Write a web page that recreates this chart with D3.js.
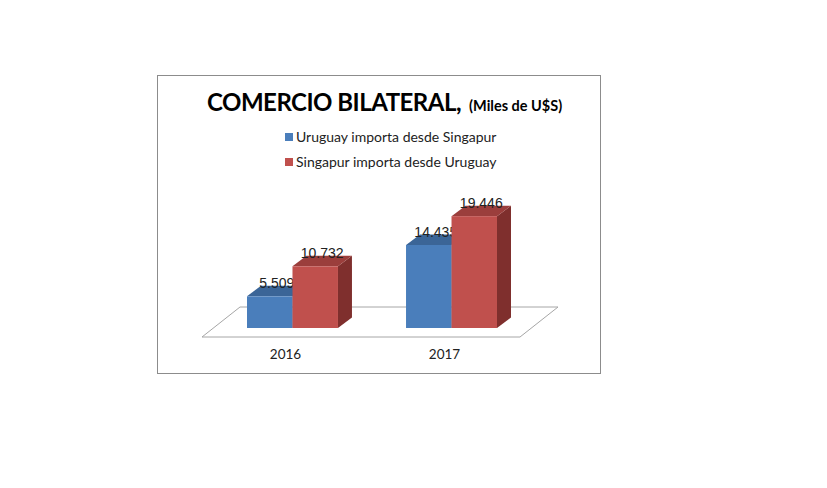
<!DOCTYPE html>
<html><head><meta charset="utf-8">
<script src="https://cdn.jsdelivr.net/npm/d3@7"></script>
<style>body{margin:0;background:#fff}</style>
</head><body>
<svg width="827" height="488"></svg>
<script>
var years = ['2016', '2017'];
var seriesNames = ['Uruguay importa desde Singapur', 'Singapur importa desde Uruguay'];
var uruguayImporta = [5509, 14435];
var singapurImporta = [10732, 19446];
var valueLabels = [['5.509', '14.435'], ['10.732', '19.446']];

var front = ['#4a7ebb', '#c0504d'];
var topC = ['#3b6597', '#9b3e3c'];
var sideC = ['#345a87', '#7f2f2d'];

var svg = d3.select('svg');
var font = 'Lato, "Open Sans", sans-serif';

// frame
svg.append('rect').attr('x', 157.5).attr('y', 75.5).attr('width', 443).attr('height', 298)
  .attr('fill', 'none').attr('stroke', '#8c8c8c');

var x0 = d3.scaleBand().domain(years).range([247, 497]).paddingInner(0.428);
var x1 = d3.scaleBand().domain([0, 1]).range([0, x0.bandwidth()]);
var y = d3.scaleLinear().domain([0, 20000]).range([328, 213]);
var dx = 14, dy = -10.5;

// floor
svg.append('path')
  .attr('d', 'M202,337 L520,337 L558,307 L240,307 Z')
  .attr('fill', '#fff').attr('stroke', '#a6a6a6');

var series = [uruguayImporta, singapurImporta];
series.forEach(function(vals, s){
  vals.forEach(function(v, i){
    var left = x0(years[i]) + x1(s), w = x1.bandwidth();
    var top = y(v), base = y(0);
    var g = svg.append('g');
    g.append('path').attr('fill', sideC[s])
      .attr('d', 'M' + (left + w) + ',' + base + ' L' + (left + w + dx) + ',' + (base + dy) +
        ' L' + (left + w + dx) + ',' + (top + dy) + ' L' + (left + w) + ',' + top + 'Z');
    g.append('path').attr('fill', topC[s])
      .attr('d', 'M' + left + ',' + top + ' L' + (left + dx) + ',' + (top + dy) +
        ' L' + (left + w + dx) + ',' + (top + dy) + ' L' + (left + w) + ',' + top + 'Z');
    g.append('rect').attr('x', left).attr('y', top).attr('width', w).attr('height', base - top)
      .attr('fill', front[s]);
    g.append('text').attr('x', left + w / 2 + dx / 2).attr('y', top - 8)
      .attr('text-anchor', 'middle').attr('font-family', 'Liberation Sans, Arial, sans-serif')
      .attr('font-size', 14).attr('fill', '#222').text(valueLabels[s][i]);
  });
});

// year labels
svg.selectAll('.yr').data(years).enter().append('text')
  .attr('x', function(d){ return x0(d) + x0.bandwidth() / 2 - 7; })
  .attr('y', 359).attr('text-anchor', 'middle')
  .attr('font-family', font).attr('font-size', 13.5).attr('fill', '#222')
  .text(function(d){ return d; });

// title
var t = svg.append('text').attr('x', 207).attr('y', 111).attr('font-family', font)
  .attr('font-weight', 'bold').attr('fill', '#000');
t.append('tspan').attr('font-size', 24).attr('letter-spacing', -0.5).text('COMERCIO BILATERAL,');
t.append('tspan').attr('font-size', 14.5).attr('dx', 8).text('(Miles de U$S)');

// legend
seriesNames.forEach(function(n, i){
  svg.append('rect').attr('x', 285).attr('y', 133 + i * 25).attr('width', 8).attr('height', 8)
    .attr('fill', front[i]);
  svg.append('text').attr('x', 296).attr('y', 142 + i * 25).attr('font-family', font)
    .attr('font-size', 14).attr('fill', '#222').text(n);
});
</script>
</body></html>
